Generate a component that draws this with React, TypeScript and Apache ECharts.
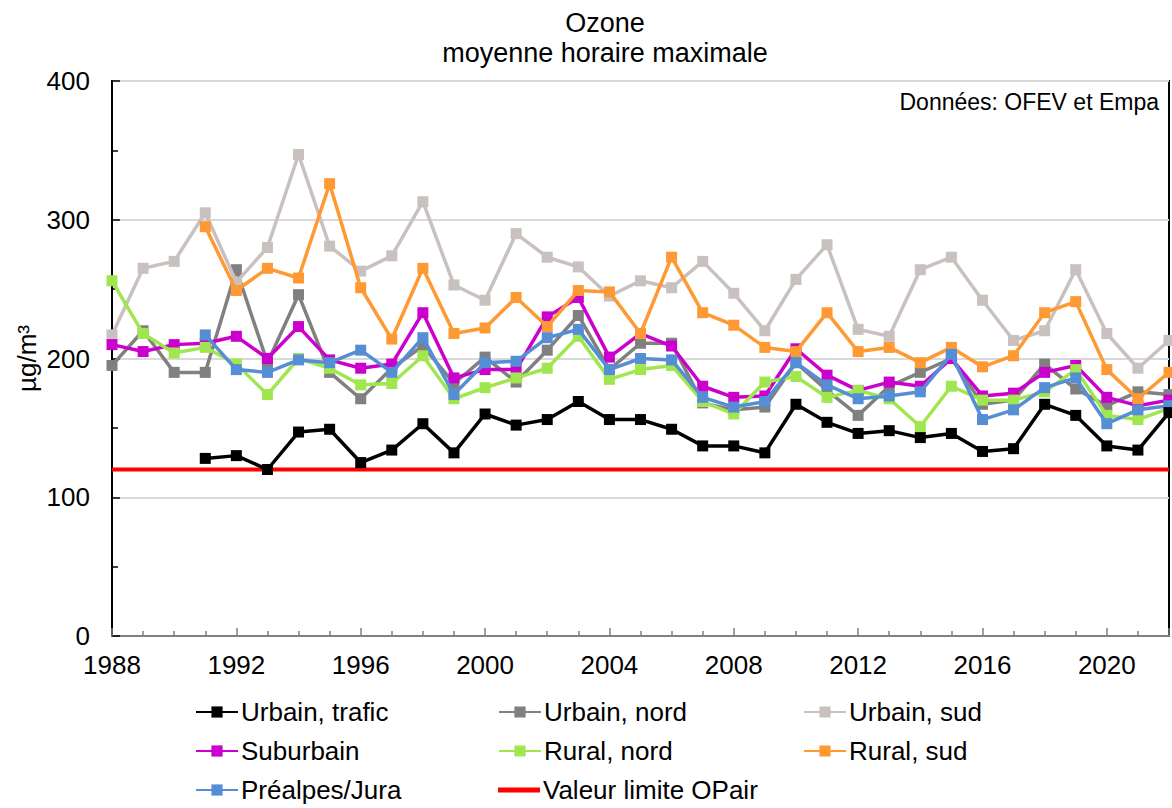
import React, { useEffect, useRef } from "react";
import * as echarts from "echarts";

const years = [
  1988, 1989, 1990, 1991, 1992, 1993, 1994, 1995, 1996, 1997, 1998, 1999,
  2000, 2001, 2002, 2003, 2004, 2005, 2006, 2007, 2008, 2009, 2010, 2011,
  2012, 2013, 2014, 2015, 2016, 2017, 2018, 2019, 2020, 2021, 2022,
];

const urbainTrafic = [
  null, null, null, 128, 130, 120, 147, 149, 125, 134, 153, 132,
  160, 152, 156, 169, 156, 156, 149, 137, 137, 132, 167, 154,
  146, 148, 143, 146, 133, 135, 167, 159, 137, 134, 161,
];
const urbainNord = [
  195, 220, 190, 190, 264, 197, 246, 190, 171, 193, 209, 182,
  201, 183, 206, 231, 192, 211, 211, 168, 163, 165, 197, 177,
  159, 180, 190, 200, 167, 170, 196, 178, 166, 176, 174,
];
const urbainSud = [
  217, 265, 270, 305, 255, 280, 347, 281, 263, 274, 313, 253,
  242, 290, 273, 266, 245, 256, 251, 270, 247, 220, 257, 282,
  221, 216, 264, 273, 242, 213, 220, 264, 218, 193, 213,
];
const suburbain = [
  210, 205, 210, 211, 216, 200, 223, 199, 193, 196, 233, 186,
  192, 192, 230, 244, 201, 218, 209, 180, 172, 173, 207, 188,
  177, 183, 180, 200, 173, 175, 190, 195, 172, 166, 170,
];
const ruralNord = [
  256, 218, 204, 208, 196, 174, 200, 193, 181, 182, 202, 171,
  179, 186, 193, 216, 185, 192, 195, 169, 160, 183, 187, 172,
  177, 171, 151, 180, 170, 170, 176, 192, 159, 156, 164,
];
const ruralSud = [
  null, null, null, 295, 249, 265, 258, 326, 251, 214, 265, 218,
  222, 244, 223, 249, 248, 218, 273, 233, 224, 208, 205, 233,
  205, 208, 197, 208, 194, 202, 233, 241, 192, 171, 190,
];
const prealpesJura = [
  null, null, null, 217, 192, 190, 199, 197, 206, 190, 215, 174,
  197, 198, 215, 221, 192, 200, 199, 172, 165, 169, 197, 181,
  171, 173, 176, 203, 156, 163, 179, 186, 153, 163, 166,
];
const valeurLimite = 120;

const yTicks = [0, 100, 200, 300, 400];
const xLabelYears = [1988, 1992, 1996, 2000, 2004, 2008, 2012, 2016, 2020];

const FONT = '"Liberation Sans", Arial, sans-serif';

function pairs(vals: (number | null)[]) {
  const out: [number, number][] = [];
  vals.forEach((v, i) => {
    if (v !== null) out.push([years[i], v]);
  });
  return out;
}

function lineSeries(name: string, color: string, vals: (number | null)[], z: number) {
  return {
    name,
    type: "line",
    data: pairs(vals),
    symbol: "rect",
    symbolSize: 11,
    z,
    lineStyle: { color, width: 3.5 },
    itemStyle: { color },
    emphasis: { disabled: true },
  };
}

const legendItems: { name: string; col: number; row: number }[] = [
  { name: "Urbain, trafic", col: 0, row: 0 },
  { name: "Urbain, nord", col: 1, row: 0 },
  { name: "Urbain, sud", col: 2, row: 0 },
  { name: "Suburbain", col: 0, row: 1 },
  { name: "Rural, nord", col: 1, row: 1 },
  { name: "Rural, sud", col: 2, row: 1 },
  { name: "Préalpes/Jura", col: 0, row: 2 },
  { name: "Valeur limite OPair", col: 1, row: 2 },
];
const legendCols = [195, 498, 803];
const legendRowsCenter = [712, 751, 790];

export default function App() {
  const ref = useRef<HTMLDivElement>(null);
  useEffect(() => {
    const chart = echarts.init(ref.current!, null, { renderer: "svg" });
    const legends = legendItems.map((it) => {
      const isLimit = it.name === "Valeur limite OPair";
      return {
        orient: "horizontal",
        left: legendCols[it.col],
        top: legendRowsCenter[it.row] - 13,
        padding: 0,
        itemWidth: 42,
        itemHeight: isLimit ? 5 : 14,
        icon: isLimit ? "rect" : undefined,
        itemGap: 0,
        selectedMode: false,
        data: [it.name],
        textStyle: { fontFamily: FONT, fontSize: 26, color: "#000", lineHeight: 26, padding: [0, 0, 0, -2] },
      };
    });
    const option = {
      animation: false,
      backgroundColor: "#fff",
      grid: {
        left: 112,
        right: 2,
        top: 81,
        bottom: 172,
        show: true,
        borderColor: "#000",
        borderWidth: 2,
        containLabel: false,
      },
      graphic: [
        {
          type: "text",
          x: 605,
          y: 23,
          style: { text: "Ozone", fill: "#000", font: `27px ${FONT}`, textAlign: "center", textVerticalAlign: "middle" },
        },
        {
          type: "text",
          x: 605,
          y: 53,
          style: { text: "moyenne horaire maximale", fill: "#000", font: `27px ${FONT}`, textAlign: "center", textVerticalAlign: "middle" },
        },
        {
          type: "text",
          x: 1159,
          y: 102,
          style: { text: "Données: OFEV et Empa", fill: "#000", font: `23px ${FONT}`, textAlign: "right", textVerticalAlign: "middle" },
        },
      ],
      legend: legends,
      xAxis: {
        type: "value",
        min: years[0],
        max: years[years.length - 1],
        interval: 4,
        axisLine: { show: true, lineStyle: { color: "#808080", width: 2 } },
        axisTick: { show: true, inside: true, length: 8, lineStyle: { color: "#808080", width: 1.5 } },
        minorTick: { show: true, splitNumber: 4, length: 5, lineStyle: { color: "#808080", width: 1.5 } },
        splitLine: { show: false },
        axisLabel: {
          margin: 16,
          fontFamily: FONT,
          fontSize: 26,
          color: "#000",
          formatter: (v: number) => (xLabelYears.includes(v) ? String(v) : ""),
        },
      },
      yAxis: {
        type: "value",
        min: yTicks[0],
        max: yTicks[yTicks.length - 1],
        interval: 100,
        name: "µg/m³",
        nameLocation: "middle",
        nameGap: 72,
        nameMoveOverlap: false,
        nameTextStyle: { fontFamily: FONT, fontSize: 26, color: "#000" },
        axisLine: { show: true, lineStyle: { color: "#000", width: 2 } },
        axisTick: { show: true, inside: true, length: 8, lineStyle: { color: "#000", width: 1.5 } },
        minorTick: { show: true, splitNumber: 2, length: 6, lineStyle: { color: "#000", width: 1.5 } },
        splitLine: { show: true, lineStyle: { color: "#d9d9d9", width: 2 } },
        axisLabel: { margin: 22, fontFamily: FONT, fontSize: 26, color: "#000" },
      },
      series: [
        {
          name: "Valeur limite OPair",
          type: "line",
          data: years.map((y) => [y, valeurLimite]),
          symbol: "none",
          z: 1,
          lineStyle: { color: "#ff0000", width: 4 },
          itemStyle: { color: "#ff0000" },
          emphasis: { disabled: true },
        },
        lineSeries("Urbain, nord", "#808080", urbainNord, 2),
        lineSeries("Urbain, sud", "#c9c1bf", urbainSud, 3),
        lineSeries("Suburbain", "#cc00cc", suburbain, 4),
        lineSeries("Rural, nord", "#a0e64e", ruralNord, 5),
        lineSeries("Rural, sud", "#ff9933", ruralSud, 6),
        lineSeries("Préalpes/Jura", "#558ed5", prealpesJura, 7),
        lineSeries("Urbain, trafic", "#000000", urbainTrafic, 8),
      ],
    };
    chart.setOption(option as any);
    return () => chart.dispose();
  }, []);
  return (
    <div
      ref={ref}
      style={{ position: "fixed", left: 0, top: 0, width: 1172, height: 808, background: "#fff" }}
    />
  );
}
